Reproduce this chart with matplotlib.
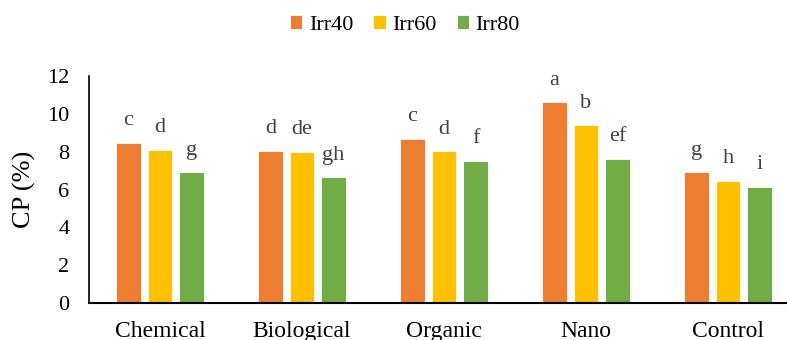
import matplotlib
matplotlib.use("Agg")
import matplotlib.pyplot as plt
import numpy as np

categories = ["Chemical", "Biological", "Organic", "Nano", "Control"]
series_names = ["Irr40", "Irr60", "Irr80"]
irr40 = [8.48, 8.06, 8.68, 10.63, 6.90]
irr60 = [8.10, 7.99, 8.04, 9.40, 6.47]
irr80 = [6.90, 6.65, 7.53, 7.63, 6.14]
letters40 = ["c", "d", "c", "a", "g"]
letters60 = ["d", "de", "d", "b", "h"]
letters80 = ["g", "gh", "f", "ef", "i"]
colors = ["#ED7D31", "#FFC000", "#70AD47"]

plt.rcParams['font.family'] = ['Liberation Serif', 'DejaVu Serif']

fig = plt.figure(figsize=(7.87, 3.40), dpi=100)
ax = fig.add_axes([89/787, 1-303/340, (799-89)/787, (303-76)/340])

x = np.arange(len(categories))
w = 0.176
off = 0.222
for i, (vals, labs) in enumerate(zip([irr40, irr60, irr80], [letters40, letters60, letters80])):
    pos = x + (i-1)*off
    ax.bar(pos, vals, width=w, color=colors[i], edgecolor='white', linewidth=0.6,
           label=series_names[i], zorder=2)
    for px, v, t in zip(pos, vals, labs):
        ax.annotate(t, (px, v), xytext=(0, 12.5), textcoords='offset points',
                    ha='center', va='baseline', fontsize=16, color='#404040')

ax.set_xlim(-0.5, 4.5)
ax.set_ylim(0, 12)
ax.set_yticks(range(0, 13, 2))
ax.set_xticks(x)
ax.set_xticklabels(categories, fontsize=17)
ax.tick_params(axis='y', length=0, pad=14, labelsize=16)
ax.tick_params(axis='x', length=0, pad=13)
for s in ['top', 'right']:
    ax.spines[s].set_visible(False)
ax.spines['left'].set_color('#000000')
ax.spines['bottom'].set_color('#000000')
ax.spines['left'].set_linewidth(1.2)
ax.spines['bottom'].set_linewidth(1.5)
ax.set_ylabel("CP (%)", fontsize=19, labelpad=8)

fig.legend(loc='center', bbox_to_anchor=(405/787, 1-25/340), ncol=3, frameon=False,
           fontsize=16, handlelength=0.55, handleheight=0.55, handletextpad=0.3,
           columnspacing=0.9)

fig.savefig("out.png", dpi=100)
